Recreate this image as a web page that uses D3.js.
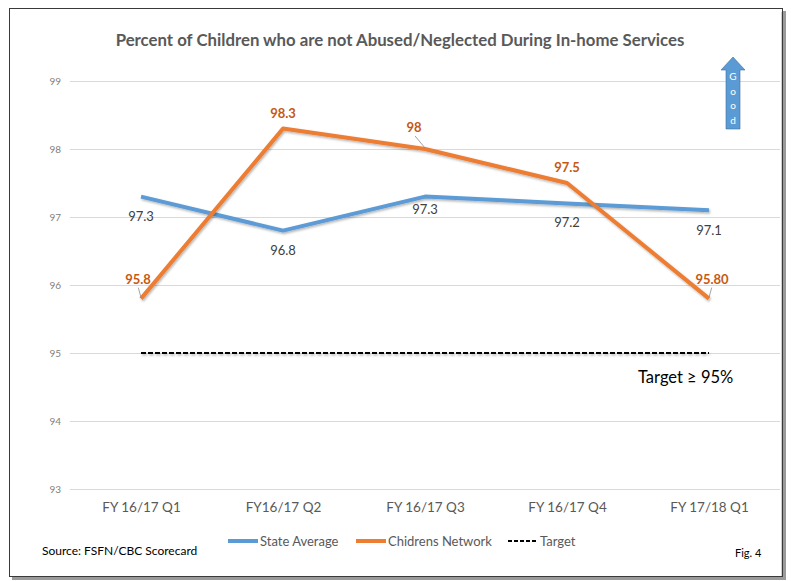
<!DOCTYPE html>
<html>
<head>
<meta charset="utf-8">
<script src="https://cdn.jsdelivr.net/npm/d3@7"></script>
<style>
  html, body { margin: 0; padding: 0; background: #fff; }
  svg { display: block; font-family: Lato, "Open Sans", sans-serif; }
</style>
</head>
<body>
<svg id="chart" width="791" height="581"></svg>
<script>
// Quarterly outcome data
const categories = ["FY 16/17 Q1", "FY16/17 Q2", "FY 16/17 Q3", "FY 16/17 Q4", "FY 17/18 Q1"];
const stateAverage = [97.3, 96.8, 97.3, 97.2, 97.1];
const childrensNetwork = [95.8, 98.3, 98, 97.5, 95.8];
const childrensLabels = ["95.8", "98.3", "98", "97.5", "95.80"];
const target = [95, 95, 95, 95, 95];
const yTicks = [93, 94, 95, 96, 97, 98, 99];

const svg = d3.select("#chart");
const blue = "#5b9bd5", orange = "#ed7d31", orangeText = "#c65911";

const defs = svg.append("defs");
const shadow = defs.append("filter").attr("id", "shadow")
  .attr("filterUnits", "userSpaceOnUse")
  .attr("x", 0).attr("y", 0).attr("width", 791).attr("height", 581);
shadow.append("feDropShadow").attr("dx", 1).attr("dy", 1.5)
  .attr("stdDeviation", 1).attr("flood-color", "#000").attr("flood-opacity", 0.3);

// Frame
svg.append("rect").attr("x", 12).attr("y", 11).attr("width", 774).attr("height", 569)
  .attr("fill", "#9a9a9a");
svg.append("rect").attr("x", 9.5).attr("y", 8.5).attr("width", 773).attr("height", 568)
  .attr("fill", "#fff").attr("stroke", "#3a3a3a").attr("stroke-width", 1);
svg.append("line").attr("x1", 781.5).attr("x2", 781.5).attr("y1", 12).attr("y2", 576)
  .attr("stroke", "#d0d0d0");

// Title
svg.append("text").attr("x", 400).attr("y", 46).attr("text-anchor", "middle")
  .attr("font-size", 16.8).attr("font-weight", "bold").attr("fill", "#595959")
  .text("Percent of Children who are not Abused/Neglected During In-home Services");

// Scales
const plotLeft = 70, plotRight = 780;
const x = d3.scalePoint().domain(categories).range([plotLeft, plotRight]).padding(0.5);
const y = d3.scaleLinear().domain([93, 99]).range([489, 81]);

// Y axis with gridlines
const yAxis = svg.append("g").attr("transform", `translate(${plotLeft},0)`)
  .call(d3.axisLeft(y).tickValues(yTicks).tickFormat(d3.format("d"))
    .tickSizeInner(-(plotRight - plotLeft)).tickSizeOuter(0).tickPadding(9));
yAxis.select(".domain").remove();
yAxis.selectAll(".tick line").attr("stroke", "#d9d9d9").attr("stroke-width", 1);
yAxis.selectAll(".tick text").attr("fill", "#808080").attr("font-size", 10)
  .attr("font-family", "Lato, sans-serif");

// X axis labels
const xAxis = svg.append("g").attr("transform", `translate(0,${y(93)})`)
  .call(d3.axisBottom(x).tickSize(0).tickPadding(13));
xAxis.select(".domain").remove();
xAxis.selectAll(".tick text").attr("fill", "#595959").attr("font-size", 13.5)
  .attr("font-family", "Lato, sans-serif");

// Lines
const line = d3.line().x((d, i) => x(categories[i])).y(d => y(d));

svg.append("path").datum(target).attr("d", line)
  .attr("fill", "none").attr("stroke", "#000").attr("stroke-width", 2)
  .attr("stroke-dasharray", "5,2").attr("filter", "url(#shadow)");

svg.append("path").datum(stateAverage).attr("d", line)
  .attr("fill", "none").attr("stroke", blue).attr("stroke-width", 4)
  .attr("stroke-linejoin", "round").attr("filter", "url(#shadow)");

svg.append("path").datum(childrensNetwork).attr("d", line)
  .attr("fill", "none").attr("stroke", orange).attr("stroke-width", 4)
  .attr("stroke-linejoin", "round").attr("filter", "url(#shadow)");

// State average labels (below points)
const stateDy = [20, 20, 13, 20, 21];
svg.append("g").selectAll("text").data(stateAverage).join("text")
  .attr("x", (d, i) => x(categories[i]))
  .attr("y", (d, i) => y(d) + stateDy[i] + 4)
  .attr("text-anchor", "middle").attr("fill", "#404040").attr("font-size", 13)
  .text(d => d3.format(".1f")(d));

// Childrens Network labels (above points), some with leader lines
const cnDx = [-3, 0, -11, 0, 3];
const cnDy = [-20, -16, -22, -16, -20];
const cnLeader = [true, false, true, false, true];
const leaderIdx = d3.range(childrensNetwork.length).filter(i => cnLeader[i]);
svg.append("g").selectAll("line").data(leaderIdx).join("line")
  .attr("x1", i => x(categories[i]) + cnDx[i] * 0.9)
  .attr("y1", i => y(childrensNetwork[i]) + cnDy[i] + 9)
  .attr("x2", i => x(categories[i]))
  .attr("y2", i => y(childrensNetwork[i]) - 1)
  .attr("stroke", "#8c8c8c").attr("stroke-width", 0.8);
svg.append("g").selectAll("text").data(childrensNetwork).join("text")
  .attr("x", (d, i) => x(categories[i]) + cnDx[i])
  .attr("y", (d, i) => y(d) + cnDy[i] + 5)
  .attr("text-anchor", "middle").attr("fill", orangeText).attr("font-size", 13)
  .attr("font-weight", "bold")
  .text((d, i) => childrensLabels[i]);

// Target annotation
svg.append("text").attr("x", 638).attr("y", 383)
  .attr("fill", "#000").attr("font-size", 16.5).text("Target \u2265 95%");

// "Good" arrow
const arrow = svg.append("g");
arrow.append("path")
  .attr("d", "M733,57 L745,70 L740,70 L740,129 L726,129 L726,70 L721,70 Z")
  .attr("fill", blue).attr("stroke", "#41719c").attr("stroke-width", 0.6);
["G", "o", "o", "d"].forEach((c, i) => {
  arrow.append("text").attr("x", 733).attr("y", 80 + i * 14.5)
    .attr("text-anchor", "middle").attr("fill", "#fff").attr("font-size", 10).text(c);
});

// Legend
const legend = svg.append("g");
const legendItems = [
  { name: "State Average", color: blue, x: 228, dash: null, w: 4 },
  { name: "Chidrens Network", color: orange, x: 356, dash: null, w: 4 },
  { name: "Target", color: "#000", x: 508, dash: "4,2", w: 2 }
];
legendItems.forEach(it => {
  legend.append("line").attr("x1", it.x).attr("x2", it.x + 30)
    .attr("y1", 541).attr("y2", 541)
    .attr("stroke", it.color).attr("stroke-width", it.w)
    .attr("stroke-dasharray", it.dash);
  legend.append("text").attr("x", it.x + 32).attr("y", 546)
    .attr("fill", "#595959").attr("font-size", 13).text(it.name);
});

// Source and figure number
svg.append("text").attr("x", 42).attr("y", 555).attr("fill", "#000")
  .attr("font-size", 12).text("Source: FSFN/CBC Scorecard");
svg.append("text").attr("x", 735).attr("y", 557).attr("fill", "#000")
  .attr("font-size", 11).text("Fig. 4");
</script>
</body>
</html>
